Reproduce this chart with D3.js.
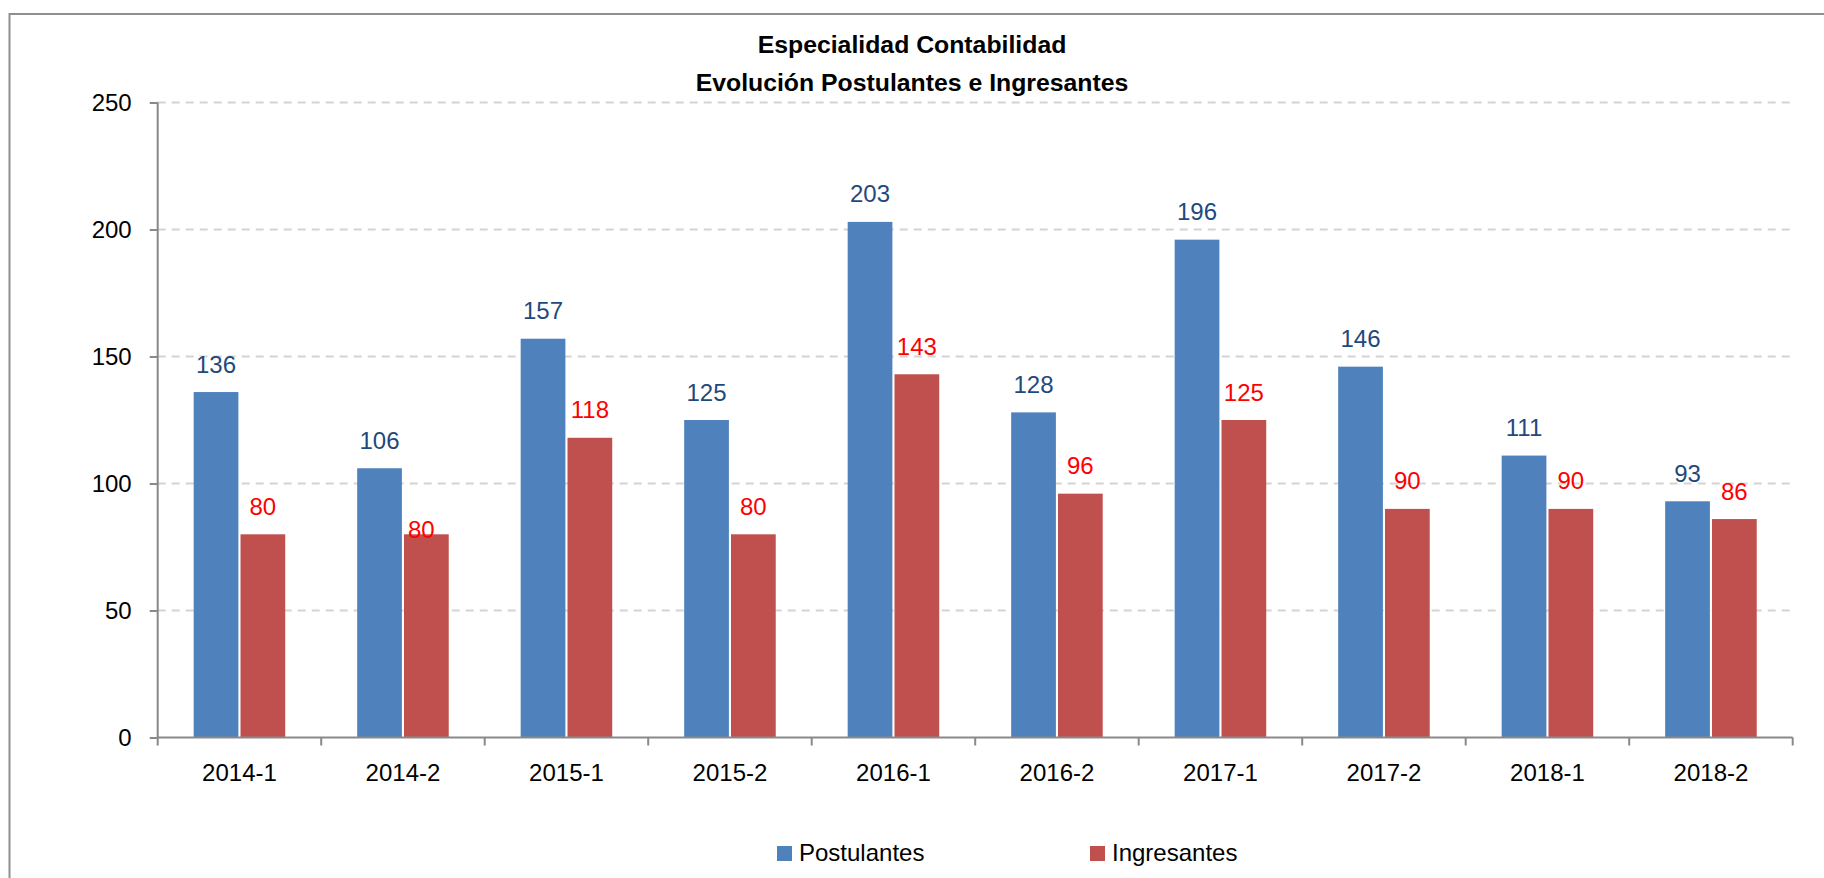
<!DOCTYPE html>
<html>
<head>
<meta charset="utf-8">
<script src="https://cdn.jsdelivr.net/npm/d3@7"></script>
<style>
  html, body { margin: 0; padding: 0; background: #ffffff; overflow: hidden; }
  text { font-family: "Liberation Sans", Arial, sans-serif; }
</style>
</head>
<body>
<div id="chart"></div>
<script>
//Data
const categories = ["2014-1", "2014-2", "2015-1", "2015-2", "2016-1", "2016-2", "2017-1", "2017-2", "2018-1", "2018-2"];
const postulantes = [136, 106, 157, 125, 203, 128, 196, 146, 111, 93];
const ingresantes = [80, 80, 118, 80, 143, 96, 125, 90, 90, 86];
const seriesNames = ["Postulantes", "Ingresantes"];
const yTicks = [0, 50, 100, 150, 200, 250];

//Size of the page and plot area
const width = 1824;
const height = 878;
const plot = { left: 157.7, right: 1792.7, top: 102.5, bottom: 737.5 };

const colors = { Postulantes: "#4F81BD", Ingresantes: "#C0504D" };
const labelColors = { Postulantes: "#1F497D", Ingresantes: "#FF0000" };

const svg = d3.select("#chart").append("svg")
  .attr("width", width)
  .attr("height", height);

//Outer chart border (runs off the right and bottom edge like the picture)
svg.append("rect")
  .attr("x", 9.5).attr("y", 14)
  .attr("width", width + 20).attr("height", height + 20)
  .attr("fill", "none")
  .attr("stroke", "#8f8f8f")
  .attr("stroke-width", 2);

//Scales
const x0 = d3.scaleBand().domain(categories).range([plot.left, plot.right]).padding(0);
const x1 = d3.scaleBand().domain(seriesNames)
  .range([x0.bandwidth() * 0.22, x0.bandwidth() * 0.78])
  .paddingInner(0.045);
const y = d3.scaleLinear().domain([0, 250]).range([plot.bottom, plot.top]);

//Dashed gridlines
svg.append("g").selectAll("line")
  .data(yTicks.filter(d => d > 0))
  .join("line")
  .attr("x1", plot.left).attr("x2", plot.right)
  .attr("y1", d => y(d)).attr("y2", d => y(d))
  .attr("stroke", "#d4d4d4")
  .attr("stroke-width", 2)
  .attr("stroke-dasharray", "8,6");

//Rows of data for the bars
const rows = categories.map((c, i) => ({
  category: c,
  values: [
    { key: "Postulantes", value: postulantes[i] },
    { key: "Ingresantes", value: ingresantes[i] }
  ]
}));

const groups = svg.append("g").selectAll("g")
  .data(rows)
  .join("g")
  .attr("transform", d => `translate(${x0(d.category)},0)`);

groups.selectAll("rect")
  .data(d => d.values)
  .join("rect")
  .attr("x", d => x1(d.key))
  .attr("y", d => y(d.value))
  .attr("width", x1.bandwidth())
  .attr("height", d => y(0) - y(d.value))
  .attr("fill", d => colors[d.key]);

//Value labels above the bars (Excel pushed the 2014-2 red label down a bit)
groups.selectAll("text")
  .data((d, i) => d.values.map(v => ({ ...v, idx: i })))
  .join("text")
  .attr("x", d => x1(d.key) + x1.bandwidth() / 2 - (d.idx === 1 && d.key === "Ingresantes" ? 5 : 0))
  .attr("y", d => y(d.value) - 19.5 + (d.idx === 1 && d.key === "Ingresantes" ? 23 : 0))
  .attr("text-anchor", "middle")
  .attr("font-size", 24)
  .attr("fill", d => labelColors[d.key])
  .text(d => d.value);

//Y axis
const yAxis = svg.append("g")
  .attr("transform", `translate(${plot.left},0)`)
  .call(d3.axisLeft(y).tickValues(yTicks).tickSize(8).tickPadding(18));
yAxis.selectAll("text").attr("font-size", 24).attr("fill", "#000").style("font-family", "Liberation Sans, Arial, sans-serif");
yAxis.selectAll("line").attr("stroke", "#898989").attr("stroke-width", 2);
yAxis.select(".domain").attr("stroke", "#898989").attr("stroke-width", 2).attr("d", `M0,${plot.top}V${plot.bottom}`);

//X axis: labels in the middle of each band, ticks on the band edges
const xAxis = svg.append("g")
  .attr("transform", `translate(0,${plot.bottom})`)
  .call(d3.axisBottom(x0).tickSize(0).tickPadding(26));
xAxis.selectAll("text").attr("font-size", 24).attr("fill", "#000").style("font-family", "Liberation Sans, Arial, sans-serif");
xAxis.select(".domain").attr("stroke", "#898989").attr("stroke-width", 2).attr("d", `M${plot.left},0H${plot.right}`);

xAxis.append("g").selectAll("line")
  .data(categories.map(c => x0(c)).concat([x0.range()[1]]))
  .join("line")
  .attr("x1", d => d).attr("x2", d => d)
  .attr("y1", 0).attr("y2", 8)
  .attr("stroke", "#898989")
  .attr("stroke-width", 2);

//Title
const title = svg.append("text")
  .attr("x", 912)
  .attr("text-anchor", "middle")
  .attr("font-size", 24.8)
  .attr("font-weight", "bold");
title.append("tspan").attr("x", 912).attr("y", 53).text("Especialidad Contabilidad");
title.append("tspan").attr("x", 912).attr("y", 90.5).text("Evolución Postulantes e Ingresantes");

//Legend
const legendX = { Postulantes: 777, Ingresantes: 1090 };
const legend = svg.append("g").selectAll("g")
  .data(seriesNames)
  .join("g")
  .attr("transform", d => `translate(${legendX[d]},846)`);

legend.append("rect")
  .attr("width", 15).attr("height", 15)
  .attr("fill", d => colors[d]);

legend.append("text")
  .attr("x", 22).attr("y", 15)
  .attr("font-size", 24)
  .attr("fill", "#000")
  .text(d => d);
</script>
</body>
</html>
